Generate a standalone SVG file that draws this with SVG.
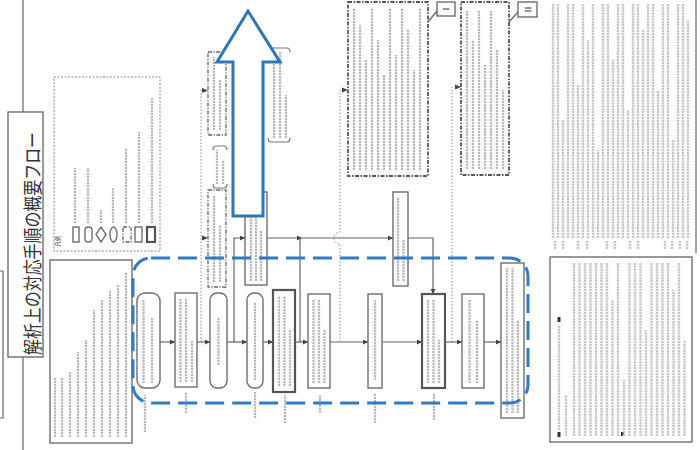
<svg xmlns="http://www.w3.org/2000/svg" width="700" height="450" viewBox="0 0 700 450">
<style>
.bx{fill:#fff;stroke:#6e6e6e;stroke-width:1.4}
.bk{fill:#fff;stroke:#555;stroke-width:2.2}
.dd{fill:#fff;stroke:#666;stroke-width:1.3;stroke-dasharray:4 1.5 1.2 1.5}
.ddk{fill:#fff;stroke:#555;stroke-width:1.8;stroke-dasharray:4 1.5 1.5 1.5}
.br{fill:none;stroke:#777;stroke-width:1.2}
.ln{fill:none;stroke:#666;stroke-width:1.2}
.dt{fill:none;stroke:#8a8a8a;stroke-width:1;stroke-dasharray:1.5 1.8}
.ts{fill:none;stroke:#bababa;stroke-width:2.3;stroke-dasharray:2.2 0.8}
.tn{fill:none;stroke:#c6c6c6;stroke-width:2.4;stroke-dasharray:2.2 0.7}
.bl{fill:none;stroke:#2f7bc4;stroke-width:3}
.ah{fill:#444}
.jp{font-family:"Noto Sans CJK JP","Noto Sans CJK SC",sans-serif;fill:#333}
.rm{font-family:"Liberation Serif",serif;fill:#444}
</style>
<defs>
<marker id="a" viewBox="0 0 6 6" refX="6" refY="3" markerWidth="5" markerHeight="5" markerUnits="userSpaceOnUse" orient="auto"><path d="M0 0L6 3L0 6Z" fill="#444"/></marker>
</defs>

<g id="title">
<path class="ln" d="M23 0V112M23 357V450"/>
<rect class="bx" x="8" y="112" width="35" height="245"/>
<text class="jp" transform="translate(31 243.5) rotate(-90)" text-anchor="middle" dominant-baseline="central" font-size="19" textLength="223" lengthAdjust="spacingAndGlyphs">解析上の対応手順の概要フロー</text>
</g>
<g id="leftbox"><path class="ln" d="M-2 271H3V418H-2"/></g>

<g id="legend">
<rect x="54" y="77" width="106" height="174" fill="#fff" stroke="#888" stroke-width="1" stroke-dasharray="2 1.5"/>
<text class="jp" transform="translate(58 241) rotate(-90)" text-anchor="middle" dominant-baseline="central" font-size="5.5" fill="#777">凡例</text>
<rect class="bx" x="73" y="227" width="6" height="15"/>
<rect class="bx" x="85" y="227" width="7" height="15" rx="3.2"/>
<polygon class="bx" points="101,227 106,234.5 101,242 96,234.5"/>
<ellipse class="bx" cx="113.5" cy="234.5" rx="3.5" ry="7.5"/>
<rect class="dd" x="123" y="227" width="8" height="15"/>
<rect class="bx" x="135" y="227" width="7" height="15"/>
<rect class="bk" x="147" y="227" width="8" height="15"/>
<path class="ts" d="M75 223V168M88 223V168M101 223V210M113 223V188M126 223V148M139 223V132M152 223V98"/>
</g>

<g id="info">
<rect class="bx" x="50" y="260" width="82" height="183"/>
<path class="ts" d="M55 437V378M62 437V378M70 437V372M78 437V352M86 437V340M94 437V310M102 437V300M110 437V290M118 437V285M126 437V272"/>
</g>

<g id="t1"><rect class="dd" x="208" y="52" width="18" height="83"/><path class="ts" d="M214 130V57M220 130V80"/></g>
<g id="t2"><path class="br" d="M213 150Q213 146 216 146H224Q227 146 227 150M213 184Q213 188 216 188H224Q227 188 227 184"/><path class="ts" d="M217 184V150M223 184V160"/></g>
<g id="t3"><rect class="dd" x="208" y="190" width="18" height="97"/><path class="ts" d="M214 282V195M220 282V225"/></g>
<g id="t4"><path class="br" d="M268 52Q268 48 271 48H287Q290 48 290 52M268 138Q268 142 271 142H287Q290 142 290 138"/><path class="ts" d="M274 138V52M280 138V52M286 138V95"/></g>
<g id="r"><rect class="bx" x="245" y="192" width="22" height="93"/><path class="ts" d="M251 281V196M256 281V196M261 281V230"/></g>
<g id="k"><rect class="bx" x="393" y="192" width="15" height="94"/><path class="ts" d="M398 281V197M403.5 281V240"/></g>

<g id="l">
<rect class="ddk" x="348" y="2" width="80" height="174"/>
<path class="ts" d="M354 170V8M360 170V25M366 170V60M372 170V8M378 170V40M384 170V75M390 170V8M396 170V55M402 170V8M408 170V30M414 170V70M420 170V8"/>
</g>
<g id="m">
<rect class="ddk" x="461" y="2" width="48" height="173"/>
<path class="ts" d="M467 169V10M473 169V40M479 169V10M485 169V65M491 169V10M497 169V50M503 169V90"/>
</g>
<g id="labI"><rect class="bx" x="437" y="2" width="18" height="14"/><text class="rm" transform="translate(446 9) rotate(-90)" text-anchor="middle" dominant-baseline="central" font-size="9">I</text></g>
<g id="labII"><rect class="bx" x="518" y="2" width="19" height="15"/><text class="rm" transform="translate(527.5 9.5) rotate(-90)" text-anchor="middle" dominant-baseline="central" font-size="9">II</text></g>

<g id="n-a"><rect class="bx" x="137" y="293" width="23" height="95" rx="8"/><path class="ts" d="M143.5 383V300M152 383V318M145 432V395"/></g>
<g id="n-b"><rect class="bx" x="175" y="293" width="22" height="94" stroke-width="1.8"/><path class="ts" d="M180.5 382V298M186 382V298M192 382V340M186 413V393"/></g>
<g id="n-c"><rect class="bx" x="210" y="293" width="17" height="95" rx="7"/><path class="ts" d="M218.5 365V318"/></g>
<g id="n-d"><rect class="bx" x="247" y="293" width="16" height="95" rx="7"/><path class="ts" d="M255 380V302M255 418V392"/></g>
<g id="n-e"><rect class="bk" x="273" y="290" width="22" height="102"/><path class="ts" d="M279 386V296M284.5 386V296M290 386V330M285 423V395"/></g>
<g id="n-f"><rect class="bx" x="308" y="294" width="22" height="94" stroke-width="1.8"/><path class="ts" d="M313.5 383V299M319 383V299M324.5 383V330M320 413V395"/></g>
<g id="n-g"><rect class="bx" x="368" y="294" width="14" height="94" stroke-width="1.8"/><path class="ts" d="M375 380V300M375 423V393"/></g>
<g id="n-h"><rect class="bk" x="422" y="294" width="23" height="94"/><path class="ts" d="M428 383V299M433.5 383V299M439 383V340M434 420V393"/></g>
<g id="n-i"><rect class="bx" x="462" y="294" width="22" height="94" stroke-width="1.8"/><path class="ts" d="M469.5 383V300M477 383V320"/></g>
<g id="n-j"><rect class="bx" x="501" y="263" width="23" height="155" stroke-width="1.8"/><path class="ts" d="M507 413V268M512.5 413V268M518 413V320"/></g>

<g id="connectors">
<path class="ln" marker-end="url(#a)" d="M160 342H175"/>
<path class="ln" marker-end="url(#a)" d="M197 342H210"/>
<path class="ln" marker-end="url(#a)" d="M227 342H247"/>
<path class="ln" marker-end="url(#a)" d="M263 342H273"/>
<path class="ln" marker-end="url(#a)" d="M295 342H308"/>
<path class="ln" marker-end="url(#a)" d="M330 342H368"/>
<path class="ln" marker-end="url(#a)" d="M382 342H422"/>
<path class="ln" marker-end="url(#a)" d="M445 342H462"/>
<path class="ln" marker-end="url(#a)" d="M484 342H501"/>
<path class="ln" marker-end="url(#a)" d="M234 342V238H245"/>
<path class="ln" marker-end="url(#a)" d="M267 238H302"/>
<path class="ln" marker-end="url(#a)" d="M302 238H393"/>
<path class="ln" d="M300 238V342"/>
<path class="ln" marker-end="url(#a)" d="M408 238H433V294"/>
<path class="dt" d="M201 342V90"/>
<path class="dt" d="M340 342V244A6 6 0 0 1 340 232V90"/>
<path class="dt" d="M452 342V87"/>
<path class="ah" d="M202 88L208 90.5L202 93Z M202 235.5L208 238L202 240.5Z M342 87.5L348 90L342 92.5Z M455 84.5L461 87L455 89.5Z"/>
<path class="ln" d="M437 11L428 22M518 12L509 22"/>
</g>

<g id="notes">
<path class="ln" d="M696 0V253"/>
<path class="tn" d="M553 238V4M558 238V4M563 238V120M568 238V4M573 238V4M578 238V85M583 238V4M588 238V40M593 238V4M598 238V150M603 238V4M608 238V4M613 238V60M618 238V4M623 238V4M628 238V110M633 238V4M638 238V4M643 238V30M648 238V4M653 238V4M658 238V90M663 238V4M668 238V4M673 238V140M678 238V4M683 238V4M688 238V20"/>
<path class="tn" d="M555 249V241M563 249V241M578 249V241M587 249V241M607 249V241M615 249V241M630 249V241M638 249V241M665 249V241M672 249V241M680 249V241M687 249V241"/>
</g>

<g id="commentary">
<rect class="bx" x="550" y="257" width="142" height="185"/>
<path d="M557.5 317h3v5h-3zM557.5 432h3v5h-3zM621 432h3v4h-3z" fill="#333"/>
<path class="tn" d="M559 430V325M566 436V395M574 436V263M579.5 436V263M585 436V263M590.5 436V263M596 436V263M601.5 436V263M607 436V263M612.5 436V300M618 436V263M624 436V380M629.5 436V263M635 436V263M640.5 436V263M646 436V330M651.5 436V263M657 436V263M662.5 436V263M668 436V263M673.5 436V290M679 436V263M684.5 436V340"/>
</g>

<rect class="bl" x="133" y="258" width="395" height="145" rx="18" stroke-dasharray="19 8"/>
<path d="M248 11L280 62H263V216H233V62H217Z" fill="#fff" stroke="#2e75b6" stroke-width="3"/>
</svg>
